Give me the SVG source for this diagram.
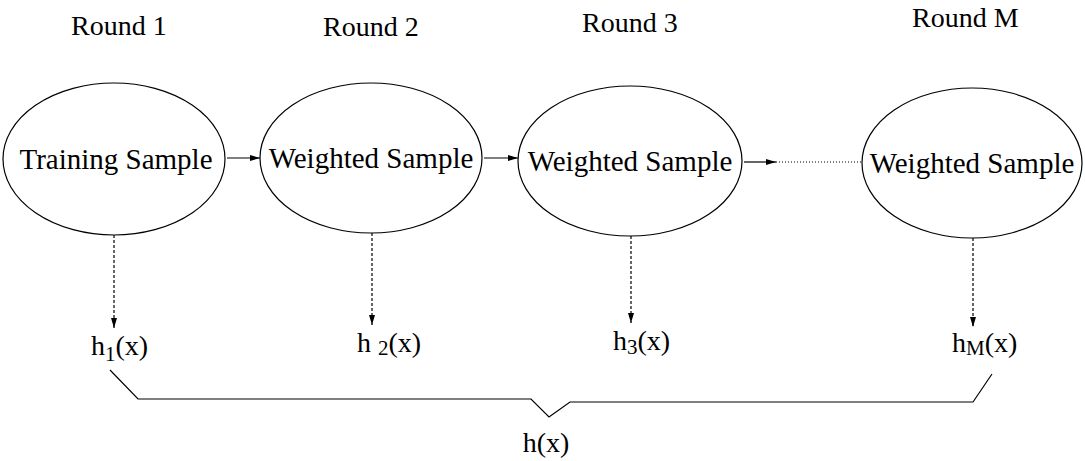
<svg xmlns="http://www.w3.org/2000/svg" width="1085" height="461" viewBox="0 0 1085 461">
<style>
text{font-family:"Liberation Serif","Times New Roman",serif;font-size:28px;fill:#000}
.node text{font-size:29px}
.sub{font-size:21px}
.node ellipse{fill:#fff;stroke:#000;stroke-width:1.2}
.solid{stroke:#000;stroke-width:1.2;fill:none}
.dash{stroke:#000;stroke-width:1.2;fill:none;stroke-dasharray:3,2}
.dot{stroke:#000;stroke-width:1;fill:none;stroke-dasharray:1,2}
</style>
<defs>
<marker id="ah" viewBox="0 0 10 6" refX="10" refY="3" markerWidth="10" markerHeight="6" markerUnits="userSpaceOnUse" orient="auto">
<path d="M0,0 L10,3 L0,6 Z" fill="#000"/>
</marker>
</defs>
<g id="labels">
<text x="71" y="35">Round 1</text>
<text x="323" y="36">Round 2</text>
<text x="582" y="32">Round 3</text>
<text x="912" y="27">Round M</text>
</g>
<g id="n1" class="node"><ellipse cx="114" cy="159" rx="111" ry="76"/><text x="116" y="169" text-anchor="middle">Training Sample</text></g>
<g id="n2" class="node"><ellipse cx="371" cy="158" rx="111" ry="75"/><text x="371" y="168" text-anchor="middle">Weighted Sample</text></g>
<g id="n3" class="node"><ellipse cx="630" cy="161" rx="112" ry="75"/><text x="630" y="171" text-anchor="middle">Weighted Sample</text></g>
<g id="n4" class="node"><ellipse cx="972" cy="163" rx="110" ry="75"/><text x="972" y="173" text-anchor="middle">Weighted Sample</text></g>
<g id="connectors">
<line class="solid" x1="227" y1="158" x2="260" y2="158" marker-end="url(#ah)"/>
<line class="solid" x1="484" y1="158" x2="518" y2="158" marker-end="url(#ah)"/>
<line class="solid" x1="744" y1="162" x2="776" y2="162" marker-end="url(#ah)"/>
<line class="dot" x1="776" y1="162" x2="862" y2="162"/>
<line class="dash" x1="114" y1="235" x2="114" y2="328" marker-end="url(#ah)"/>
<line class="dash" x1="372" y1="233" x2="372" y2="325" marker-end="url(#ah)"/>
<line class="dash" x1="631" y1="236" x2="631" y2="323" marker-end="url(#ah)"/>
<line class="dash" x1="973" y1="238" x2="973" y2="327" marker-end="url(#ah)"/>
<polyline class="solid" points="110,370 138,399 531,399 549,417 570,402 973,402 992,374"/>
</g>
<g id="h1"><text x="91" y="355">h<tspan class="sub" dy="6">1</tspan><tspan dy="-6">(x)</tspan></text></g>
<g id="h2"><text x="357" y="352">h <tspan class="sub" dy="3">2</tspan><tspan dy="-3">(x)</tspan></text></g>
<g id="h3"><text x="613" y="350">h<tspan class="sub" dy="4">3</tspan><tspan dy="-4">(x)</tspan></text></g>
<g id="hM"><text x="952" y="352">h<tspan class="sub" dy="3">M</tspan><tspan dy="-3">(x)</tspan></text></g>
<g id="hx"><text x="546" y="452" text-anchor="middle">h(x)</text></g>
</svg>
